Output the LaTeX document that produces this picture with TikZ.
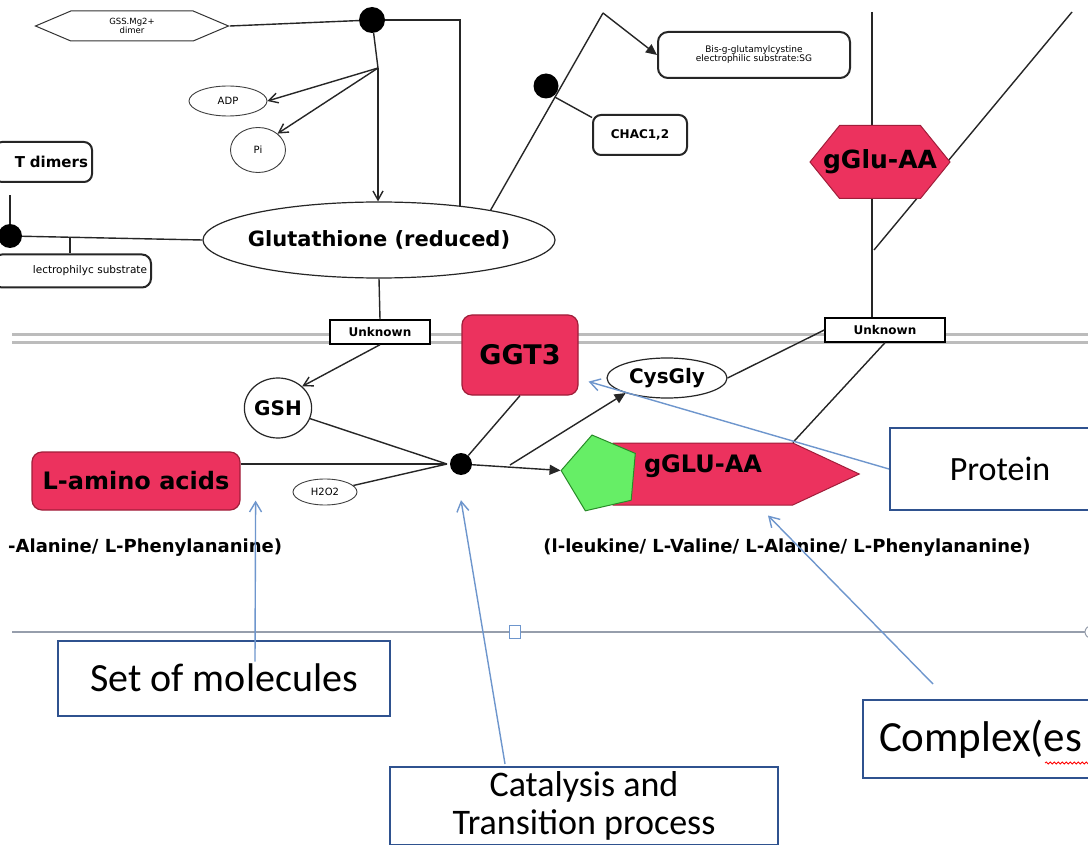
\documentclass[tikz,border=0pt]{standalone}
\usepackage{fontspec}
\usepackage{tikz}
\usetikzlibrary{shapes.geometric, shapes.symbols, arrows.meta, positioning, calc, decorations.pathmorphing}
\newfontfamily\pathfont{DejaVu Sans}
\newfontfamily\calloutfont{Carlito}
\newcommand{\pbold}[1]{\pathfont\bfseries\fontsize{#1}{#1}\selectfont}
\newcommand{\plain}[1]{\pathfont\fontsize{#1}{#1}\selectfont}
\definecolor{gred}{RGB}{236,50,94}
\definecolor{gredline}{RGB}{160,30,58}
\definecolor{ggreen}{RGB}{102,238,102}
\definecolor{ggreenline}{RGB}{40,140,40}
\definecolor{cblue}{RGB}{47,82,143}
\definecolor{pblue}{RGB}{110,150,205}
\definecolor{memgray}{RGB}{188,188,188}
\definecolor{lgray}{RGB}{150,158,172}
\tikzset{
  species/.style={ellipse, draw=black!85, line width=1.2pt, fill=white, inner sep=0pt},
  smallspecies/.style={ellipse, draw=black!75, line width=0.9pt, fill=white,
    inner sep=0pt, font=\plain{10}},
  rbox/.style={rectangle, rounded corners=8pt, draw=black!85, line width=2pt,
    fill=white, inner sep=4pt},
  protein/.style={rectangle, rounded corners=10pt, draw=gredline, line width=1.2pt,
    fill=gred, inner sep=0pt},
  unknownbox/.style={rectangle, draw=black, line width=1.4pt, fill=white,
    minimum height=24pt, inner sep=0pt, font=\pbold{12}},
  procdot/.style={circle, fill=black, inner sep=0pt},
  callout/.style={rectangle, draw=cblue, line width=2pt, fill=white,
    inner sep=0pt, align=center, font=\calloutfont\fontsize{40}{38}\selectfont},
  reaction/.style={black!85, line width=1.4pt},
  openarrow/.style={reaction, -{Straight Barb[length=9pt, width=10pt]}},
  fillarrow/.style={reaction, -{Triangle[length=11pt, width=10pt]}},
  pointer/.style={pblue, line width=1.4pt, -{Straight Barb[length=10pt, width=12pt]}}
}

\begin{document}
\begin{tikzpicture}[x=1pt, y=-1pt]
  \useasboundingbox (0,0) rectangle (1088,845);
  \clip (0,0) rectangle (1088,845);
  \fill[white] (0,0) rectangle (1088,845);

  % Membranes
  \draw[memgray, line width=3pt] (12,335) -- (1088,335);
  \draw[memgray, line width=3pt] (12,343) -- (1088,343);
  \draw[lgray, line width=2.5pt] (12,632) -- (1088,632);
  \node[draw=pblue, fill=white, line width=1pt, minimum width=11pt, minimum height=13pt, inner sep=0pt] (handle) at (515,632) {};
  \node[circle, draw=lgray, fill=white, line width=1pt, minimum size=12pt, inner sep=0pt] (handleb) at (1091,632) {};

  % Upper compartment: glutathione synthesis
  \node[signal, signal to=west and east, signal pointer angle=46, draw=black!80, line width=1pt,
    fill=white, minimum width=193pt, minimum height=30pt, inner sep=0pt, align=center,
    font=\plain{8.5}] (gss) at (132,26) {GSS.Mg2+\\dimer};
  \node[procdot, minimum size=26pt] (gssdot) at (372,20) {};
  \node[species, minimum width=352pt, minimum height=76pt,
    label={[font=\pbold{21}]center:Glutathione (reduced)}] (glut) at (379,240) {};
  \coordinate (gssbranch) at (378,68);
  \node[smallspecies, minimum width=78pt, minimum height=30pt] (adp) at (228,101) {ADP};
  \node[smallspecies, minimum width=55pt, minimum height=45pt] (pi) at (258,150) {Pi};

  \draw[reaction] (gss.east) -- (gssdot);
  \draw[reaction] (gssdot.east) -| (glut.23);
  \draw[reaction] (gssdot) -- (gssbranch);
  \draw[openarrow] (gssbranch) -- (gssbranch |- glut.north);
  \draw[openarrow] (gssbranch) -- (adp.east);
  \draw[openarrow] (gssbranch) -- (pi.40);

  % Left edge: transferase
  \node[rbox, text width=90pt, align=right, minimum height=40pt, font=\pbold{15}] (tdim) at (43,162) {T dimers};
  \node[rbox, rounded corners=9pt, text width=150pt, align=right, minimum height=33pt, font=\plain{10.5}] (esub) at (72,271) {lectrophilyc substrate};
  \node[procdot, minimum size=24pt] (leftdot) at (10,236) {};
  \coordinate (tick) at (70,237);
  \draw[reaction] (leftdot) -- (glut.west);
  \draw[reaction] (tick) -- (tick |- esub.north);
  \draw[reaction] (leftdot) -- ($(leftdot |- tdim.south)+(0,12)$);

  % Degradation by CHAC
  \coordinate (chacpeak) at (603,13);
  \node[rbox, minimum width=94pt, minimum height=40pt, font=\pbold{12}] (chac) at (640,135) {CHAC1,2};
  \node[rbox, rounded corners=10pt, minimum width=192pt, minimum height=46pt, align=center,
    font=\plain{9}] (bis) at (754,55) {Bis-g-glutamylcystine\\electrophilic substrate:SG};
  \node[procdot, minimum size=25pt] (chacdot) at (546,86) {};
  \draw[reaction] (glut.15) -- (chacpeak);
  \draw[fillarrow] (chacpeak) -- (bis.west);
  \coordinate (chactee) at ($(glut.15)!0.573!(chacpeak)$);
  \draw[reaction] (chactee) -- (chac.160);

  % Upper right: gGlu-AA
  \coordinate (vtop) at (872,12);
  \coordinate (gglutop) at (1072,12);
  \coordinate (gglutee) at (874,250);
  \node[unknownbox, minimum width=120pt] (unk2) at (885,330) {Unknown};
  \draw[reaction] (vtop) -- (vtop |- unk2.north);
  \draw[reaction] (gglutop) -- (gglutee);
  \node[signal, signal to=west and east, signal pointer angle=102, draw=gredline, line width=1pt,
    fill=gred, minimum width=140pt, minimum height=73pt, inner sep=0pt,
    label={[font=\pbold{25}]center:gGlu-AA}] (gglu) at (880,162) {};

  % Lower compartment: transpeptidation
  \node[unknownbox, minimum width=100pt] (unk1) at (380,332) {Unknown};
  \node[species, minimum width=66pt, minimum height=60pt, font=\pbold{20}] (gsh) at (278,408) {GSH};
  \node[protein, minimum width=116pt, minimum height=80pt, font=\pbold{27}] (ggt) at (520,355) {GGT3};
  \node[species, minimum width=120pt, minimum height=40pt, font=\pbold{20}] (cys) at (667,378) {CysGly};
  \node[protein, minimum width=208pt, minimum height=58pt, font=\pbold{24}] (laa) at (136,481) {L-amino acids};
  \node[smallspecies, minimum width=64pt, minimum height=26pt] (h2o2) at (325,492) {H2O2};
  \node[procdot, minimum size=22pt] (cat) at (461,464) {};
  \coordinate (catin) at (447,464);
  \coordinate (catout) at (510,465);
  \node[signal, signal to=east, signal pointer angle=50, draw=gredline, line width=1pt,
    fill=gred, minimum width=246pt, minimum height=62pt, inner sep=0pt,
    label={[font=\pbold{24}, yshift=8pt]center:gGLU-AA}] (ggluaa) at (703,474) {};
  \node[regular polygon, regular polygon sides=5, shape border rotate=85, draw=ggreenline,
    line width=1pt, fill=ggreen, minimum size=80pt, inner sep=0pt] (penta) at (601,474) {};

  \draw[reaction] (glut.south) -- (unk1.north);
  \draw[openarrow] (unk1.south) -- (gsh.north east);
  \draw[reaction] (unk2.west) -- (cys.east);
  \draw[reaction] (unk2.south) -- (ggluaa.north east);
  \draw[reaction] (laa.east |- catin) -- (catin);
  \draw[reaction] (gsh) -- (catin);
  \draw[reaction] (h2o2) -- (catin);
  \draw[reaction] (ggt.south) -- (cat);
  \draw[fillarrow] (cat) -- (penta.corner 1);
  \draw[fillarrow] (catout) -- (cys.200);

  \node[font=\pbold{18}] (aalist) at (787,548) {(l-leukine/ L-Valine/ L-Alanine/ L-Phenylananine)};
  \node[font=\pbold{18}, anchor=west, inner sep=0pt] (aalistl) at (8,548) {-Alanine/ L-Phenylananine)};

  % Legend callouts
  \node[callout, minimum width=220pt, minimum height=82pt, font=\calloutfont\fontsize{34}{36}\selectfont] (protbox) at (1000,469) {Protein};
  \node[callout, minimum width=332pt, minimum height=75pt] (molbox) at (224,678) {Set of molecules};
  \node[callout, minimum width=388pt, minimum height=78pt, font=\calloutfont\fontsize{36}{38}\selectfont] (catbox) at (584,806) {Catalysis and\\Transition process};
  \node[callout, anchor=west, text width=240pt, align=left, inner xsep=16pt, minimum height=78pt,
    font=\calloutfont\fontsize{43}{45}\selectfont] (cplxbox) at (862,739) {Complex(es};
  \draw[red, line width=0.8pt, decorate, decoration={snake, amplitude=1pt, segment length=4pt}]
    ($(cplxbox.west)+(183,24)$) -- ++(50,0);

  \draw[pointer] (protbox.west) -- ($(ggt.south east)+(10,-14)$);
  \draw[pointer] ($(molbox.north)+(31,22)$) -- ($(laa.south east)+(15,-10)$);
  \draw[pointer] ($(catbox.north)+(-79,-2)$) -- ($(cat.south)+(0,25)$);
  \draw[pointer] ($(cplxbox.north west)+(71,-15)$) -- ($(ggluaa.south)+(65,10)$);
\end{tikzpicture}
\end{document}
